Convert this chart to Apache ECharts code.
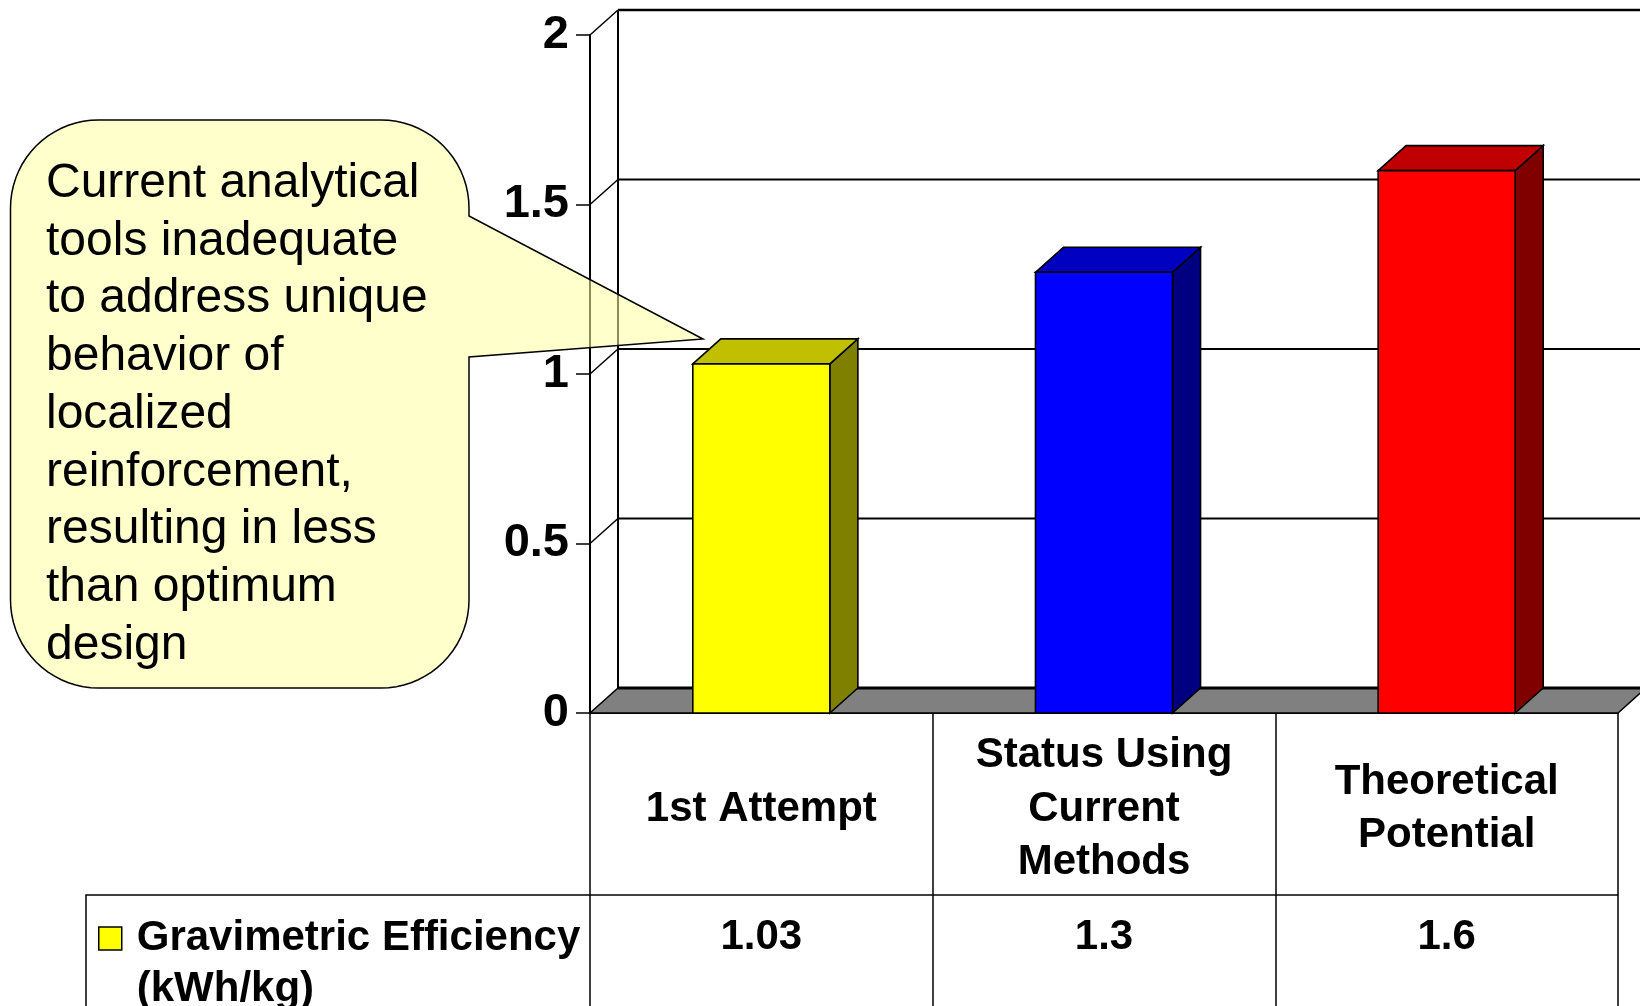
<!DOCTYPE html>
<html>
<head>
<meta charset="utf-8">
<title>Gravimetric Efficiency</title>
<style>
  html, body { margin: 0; padding: 0; background: #ffffff; }
  #chart { width: 1640px; height: 1006px; }
</style>
<script src="https://cdn.jsdelivr.net/npm/echarts@6/dist/echarts.min.js"></script>
</head>
<body>
<div id="chart"></div>
<script>
// ---- data ----
const categories = ['1st Attempt', 'Status Using\nCurrent\nMethods', 'Theoretical\nPotential'];
const seriesName = 'Gravimetric Efficiency\n(kWh/kg)';
const efficiency = [1.03, 1.3, 1.6];
const yTicks = [0, 0.5, 1, 1.5, 2];
const calloutLines = [
  'Current analytical',
  'tools inadequate',
  'to address unique',
  'behavior of',
  'localized',
  'reinforcement,',
  'resulting in less',
  'than optimum',
  'design'
];

// ---- styling ----
const FONT = '"Liberation Sans", Arial, Helvetica, sans-serif';
const frontColors = ['#ffff00', '#0000ff', '#ff0000'];
const topColors = ['#c0c000', '#0000c0', '#c00000'];
const sideColors = ['#808000', '#000080', '#800000'];
const DX = 28, DY = -25;          // depth of the pseudo-3D box
const ROW1 = 182, ROW2_MID = 224; // table geometry below the floor

const edge = { stroke: '#000', lineWidth: 1.6, lineJoin: 'miter' };

// back wall, floor and the depth connectors for every y tick
function renderWall(params, api) {
  const v = api.value(1);
  const cs = params.coordSys;
  const x0 = cs.x, x1 = cs.x + cs.width;
  const y = api.coord([0, v])[1];
  const children = [];
  if (v === yTicks[0]) {
    children.push({
      type: 'polygon',
      shape: { points: [[x0, y], [x0 + DX, y + DY], [x1 + DX, y + DY], [x1, y]] },
      style: { fill: '#808080', stroke: '#000', lineWidth: 1.5 }
    });
    children.push({
      type: 'line',
      shape: { x1: x0 + DX, y1: y + DY, x2: x1 + DX, y2: y + DY },
      style: { stroke: '#000', lineWidth: 3 }
    });
  } else {
    const last = v === yTicks[yTicks.length - 1];
    children.push({
      type: 'line',
      shape: { x1: x0 + DX, y1: y + DY, x2: x1 + DX + 40, y2: y + DY },
      style: { stroke: '#000', lineWidth: last ? 2.5 : 1.8 }
    });
    children.push({
      type: 'line',
      shape: { x1: x0, y1: y, x2: x0 + DX, y2: y + DY },
      style: { stroke: '#000', lineWidth: 1.5 }
    });
    if (last) {
      const y0 = api.coord([0, yTicks[0]])[1];
      children.push({
        type: 'line',
        shape: { x1: x0 + DX, y1: y0 + DY, x2: x0 + DX, y2: y + DY },
        style: { stroke: '#000', lineWidth: 2 }
      });
    }
  }
  return { type: 'group', children: children };
}

// one box per category, plus its value cell in the data table
function renderBox(params, api) {
  const i = api.value(0);
  const v = api.value(1);
  const top = api.coord([i, v]);
  const base = api.coord([i, 0]);
  const band = api.size([1, 0])[0];
  const w = band * 0.4;
  const xl = top[0] - w / 2, xr = top[0] + w / 2;
  const yt = top[1], yb = base[1];
  return {
    type: 'group',
    children: [
      { type: 'polygon', shape: { points: [[xr, yt], [xr + DX, yt + DY], [xr + DX, yb + DY], [xr, yb]] },
        style: Object.assign({ fill: sideColors[i] }, edge) },
      { type: 'polygon', shape: { points: [[xl, yt], [xl + DX, yt + DY], [xr + DX, yt + DY], [xr, yt]] },
        style: Object.assign({ fill: topColors[i] }, edge) },
      { type: 'rect', shape: { x: xl, y: yt, width: w, height: yb - yt },
        style: Object.assign({ fill: frontColors[i] }, edge) },
      { type: 'line', shape: { x1: top[0] - band / 2, y1: yb + ROW1, x2: top[0] + band / 2, y2: yb + ROW1 },
        style: { stroke: '#000', lineWidth: 1.5 } },
      { type: 'text', x: top[0], y: yb + ROW2_MID,
        style: { text: String(v), fontFamily: FONT, fontSize: 42, fontWeight: 'bold',
                 fill: '#000', align: 'center', verticalAlign: 'middle' } }
    ]
  };
}

// rounded speech bubble outline
function bubblePoints(L, T, R, B, r, tail) {
  const pts = [];
  const arc = (cx, cy, a0, a1) => {
    for (let k = 0; k <= 18; k++) {
      const a = (a0 + (a1 - a0) * k / 18) * Math.PI / 180;
      pts.push([cx + r * Math.cos(a), cy + r * Math.sin(a)]);
    }
  };
  arc(R - r, T + r, -90, 0);
  tail.forEach(p => pts.push(p));
  arc(R - r, B - r, 0, 90);
  arc(L + r, B - r, 90, 180);
  arc(L + r, T + r, 180, 270);
  return pts;
}

const chart = echarts.init(document.getElementById('chart'), null, { renderer: 'canvas' });

chart.setOption({
  animation: false,
  backgroundColor: '#ffffff',
  textStyle: { fontFamily: FONT },
  grid: { left: 590, right: 22, top: 35, bottom: 293, containLabel: false, outerBoundsMode: 'none' },
  legend: {
    data: [seriesName],
    left: 98,
    top: 862,
    padding: 0,
    icon: 'rect',
    itemWidth: 23,
    itemHeight: 23,
    selectedMode: false,
    // an empty leading line keeps the first text line level with the swatch
    formatter: name => '\n' + name,
    itemStyle: { color: '#ffff00', borderColor: '#000', borderWidth: 1.5 },
    textStyle: {
      fontFamily: FONT, fontSize: 42, fontWeight: 'bold', color: '#000',
      lineHeight: 51, padding: [0, 0, 0, 10]
    }
  },
  xAxis: {
    type: 'category',
    data: categories,
    boundaryGap: true,
    axisLine: { show: true, lineStyle: { color: '#000', width: 2 } },
    axisTick: { show: true, interval: 0, alignWithLabel: false, length: 293, inside: false,
                lineStyle: { color: '#000', width: 1.5 } },
    axisLabel: {
      interval: 0, margin: 96, verticalAlign: 'middle', lineHeight: 53.5,
      fontFamily: FONT, fontSize: 42, fontWeight: 'bold', color: '#000', hideOverlap: false
    },
    splitLine: { show: false }
  },
  yAxis: {
    type: 'value',
    min: yTicks[0],
    max: yTicks[yTicks.length - 1],
    interval: yTicks[1] - yTicks[0],
    axisLine: { show: true, lineStyle: { color: '#000', width: 2 } },
    axisTick: { show: true, length: 14, lineStyle: { color: '#000', width: 1.5 } },
    axisLabel: { margin: 21, fontFamily: FONT, fontSize: 47, fontWeight: 'bold', color: '#000' },
    splitLine: { show: false }
  },
  series: [
    {
      type: 'custom',
      name: 'wall',
      silent: true,
      clip: false,
      z: 1,
      renderItem: renderWall,
      data: yTicks.map(v => [0, v])
    },
    {
      type: 'custom',
      name: seriesName,
      silent: true,
      clip: false,
      z: 3,
      itemStyle: { color: '#ffff00' },
      encode: { x: 0, y: 1 },
      renderItem: renderBox,
      data: efficiency.map((v, i) => [i, v])
    }
  ],
  graphic: [
    {
      type: 'polygon',
      z: 100,
      silent: true,
      shape: { points: bubblePoints(10.5, 120, 469, 688, 88, [[469, 216], [703, 339], [469, 357]]) },
      style: { fill: 'rgba(255,255,160,0.55)', stroke: '#000', lineWidth: 1.5 }
    },
    {
      type: 'text',
      z: 101,
      silent: true,
      x: 46,
      y: 155,
      style: {
        text: calloutLines.join('\n'),
        fontFamily: FONT, fontSize: 48, lineHeight: 57.7,
        fill: '#000', align: 'left', verticalAlign: 'top'
      }
    },
    {
      type: 'polyline',
      z: 5,
      silent: true,
      shape: { points: [[86, 1010], [86, 895], [590, 895]] },
      style: { stroke: '#000', lineWidth: 1.5, fill: null }
    }
  ]
});
</script>
</body>
</html>
